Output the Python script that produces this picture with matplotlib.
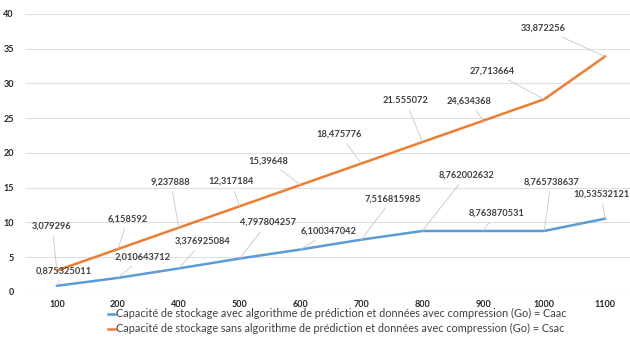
import matplotlib
matplotlib.use("Agg")
from matplotlib import pyplot as plt

plt.rcParams['font.family'] = ['Lato', 'DejaVu Sans']

# data
categories = ["100", "200", "400", "500", "600", "700", "800", "900", "1000", "1100"]
caac = [0.875325011, 2.010643712, 3.376925084, 4.797804257, 6.100347042,
        7.516815985, 8.762002632, 8.763870531, 8.765738637, 10.53532121]
csac = [3.079296, 6.158592, 9.237888, 12.317184, 15.39648,
        18.475776, 21.555072, 24.634368, 27.713664, 33.872256]
caac_labels = ["0,875325011", "2,010643712", "3,376925084", "4,797804257", "6,100347042",
               "7,516815985", "8,762002632", "8,763870531", "8,765738637", "10,53532121"]
csac_labels = ["3,079296", "6,158592", "9,237888", "12,317184", "15,39648",
               "18,475776", "21.555072", "24,634368", "27,713664", "33,872256"]

# label offsets in pixels (dx, dy) from each point
caac_off = [(7, 15), (25, 21), (24, 27), (28, 36), (28, 18),
            (31, 41), (44, 56), (13, 18), (7, 49), (-4, 25)]
csac_off = [(-5, 44), (10, 30), (-8, 46), (-9, 25), (-32, 24),
            (-22, 29), (-17, 42), (-14, 20), (-52, 28), (-62, 28)]

blue = "#5b9bd5"
orange = "#ed7d31"

fig = plt.figure(figsize=(6.30, 3.39), dpi=100)
ax = fig.add_axes([25 / 630, 0.139, 605 / 630, 0.82])

x = list(range(len(categories)))
ax.plot(x, caac, color=blue, lw=1.8,
        label="Capacité de stockage avec algorithme de prédiction et données avec compression (Go) = Caac")
ax.plot(x, csac, color=orange, lw=1.8,
        label="Capacité de stockage sans algorithme de prédiction et données avec compression (Go) = Csac")

for vals, labs, offs in [(caac, caac_labels, caac_off), (csac, csac_labels, csac_off)]:
    for i, (v, t, o) in enumerate(zip(vals, labs, offs)):
        ax.annotate(t, xy=(i, v), xytext=o, textcoords="offset pixels",
                    ha="center", va="center", fontsize=6.7, fontweight="bold",
                    color="#404040",
                    arrowprops=dict(arrowstyle="-", color="#c8c8c8", lw=0.6,
                                    shrinkA=2, shrinkB=0))

ax.set_xlim(-0.525, 9.41)
ax.set_ylim(0, 40)
ax.set_yticks(range(0, 41, 5))
ax.set_xticks(x)
ax.set_xticklabels(categories)
ax.grid(axis="y", color="#e0e0e0", lw=0.8)
ax.set_axisbelow(True)
for s in ax.spines.values():
    s.set_visible(False)
ax.tick_params(length=0, labelsize=6.5, colors="#262626")
for lab in ax.get_xticklabels() + ax.get_yticklabels():
    lab.set_fontweight("bold")
ax.tick_params(axis="y", pad=8)
ax.tick_params(axis="x", pad=6)

fig.legend(loc="lower center", bbox_to_anchor=(0.535, -0.015), ncol=1, frameon=False,
           fontsize=7.8, handlelength=0.6, handletextpad=0.1, labelspacing=0.35,
           labelcolor="#404040")

fig.savefig("out.png", dpi=100)
